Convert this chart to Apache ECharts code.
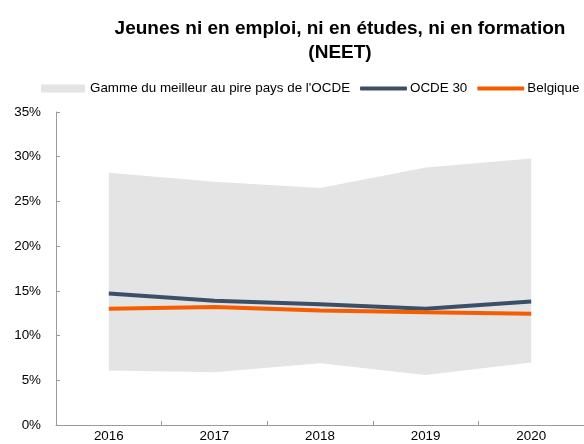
<!DOCTYPE html>
<html>
<head>
<meta charset="utf-8">
<script src="https://cdn.jsdelivr.net/npm/echarts@6/dist/echarts.min.js"></script>
<style>
  html, body { margin: 0; padding: 0; background: #fff; }
  #chart { width: 584px; height: 444px; }
</style>
</head>
<body>
<div id="chart"></div>
<script>
  const years = ["2016", "2017", "2018", "2019", "2020"];
  const rangeLow = [6.1, 5.9, 6.9, 5.6, 7.0];
  const rangeHigh = [28.2, 27.2, 26.5, 28.8, 29.8];
  const oecd30 = [14.7, 13.9, 13.5, 13.0, 13.8];
  const belgium = [13.0, 13.2, 12.8, 12.6, 12.45];

  const font = "'Liberation Sans', Arial, sans-serif";
  const bandColor = "#e4e4e4";
  const oecdColor = "#3b5068";
  const belColor = "#f55d00";

  const rangeSpan = rangeHigh.map((h, i) => +(h - rangeLow[i]).toFixed(2));

  const chart = echarts.init(document.getElementById("chart"));
  chart.setOption({
    animation: false,
    title: {
      text: "Jeunes ni en emploi, ni en études, ni en formation\n(NEET)",
      left: 335,
      top: 12,
      textAlign: "center",
      textStyle: {
        fontFamily: font,
        fontSize: 19,
        fontWeight: "bold",
        color: "#000",
        lineHeight: 24
      }
    },
    legend: [
      {
        left: 36,
        top: 77,
        width: 330,
        itemWidth: 44,
        itemHeight: 8,
        itemGap: 10,
        textStyle: { fontFamily: font, fontSize: 13.4, color: "#000", padding: [0, 0, 0, 0] },
        data: [{ name: "Gamme du meilleur au pire pays de l'OCDE", icon: "rect", itemStyle: { color: bandColor } }]
      },
      {
        left: 355,
        top: 77,
        width: 240,
        itemWidth: 47,
        itemHeight: 4,
        itemGap: 10,
        textStyle: { fontFamily: font, fontSize: 13.4, color: "#000", padding: [0, 0, 0, -2] },
        data: [
          { name: "OCDE 30", icon: "roundRect", itemStyle: { color: oecdColor } },
          { name: "Belgique", icon: "roundRect", itemStyle: { color: belColor } }
        ]
      }
    ],
    grid: { left: 56, right: -9, top: 112, bottom: 19, containLabel: false },
    xAxis: {
      type: "category",
      data: years,
      boundaryGap: true,
      axisLine: { lineStyle: { color: "#9a9a9a", width: 1 } },
      axisTick: { show: true, inside: true, length: 4, lineStyle: { color: "#9a9a9a" } },
      axisLabel: { fontFamily: font, fontSize: 13.4, color: "#000", margin: 5 }
    },
    yAxis: {
      type: "value",
      min: 0,
      max: 35,
      interval: 5,
      axisLine: { show: true, lineStyle: { color: "#9a9a9a", width: 1 } },
      axisTick: { show: true, inside: true, length: 4, lineStyle: { color: "#9a9a9a" } },
      splitLine: { show: false },
      axisLabel: {
        fontFamily: font,
        fontSize: 13.4,
        color: "#000",
        margin: 15,
        formatter: (v) => v + "%"
      }
    },
    series: [
      {
        name: "low",
        type: "line",
        stack: "range",
        data: rangeLow,
        symbol: "none",
        lineStyle: { width: 0, opacity: 0 },
        silent: true
      },
      {
        name: "Gamme du meilleur au pire pays de l'OCDE",
        type: "line",
        stack: "range",
        data: rangeSpan,
        symbol: "none",
        lineStyle: { width: 0, opacity: 0 },
        itemStyle: { color: bandColor },
        areaStyle: { color: bandColor, opacity: 1 },
        silent: true
      },
      {
        name: "OCDE 30",
        type: "line",
        data: oecd30,
        symbol: "none",
        lineStyle: { width: 4, color: oecdColor },
        itemStyle: { color: oecdColor }
      },
      {
        name: "Belgique",
        type: "line",
        data: belgium,
        symbol: "none",
        lineStyle: { width: 4, color: belColor },
        itemStyle: { color: belColor }
      }
    ]
  });
</script>
</body>
</html>
